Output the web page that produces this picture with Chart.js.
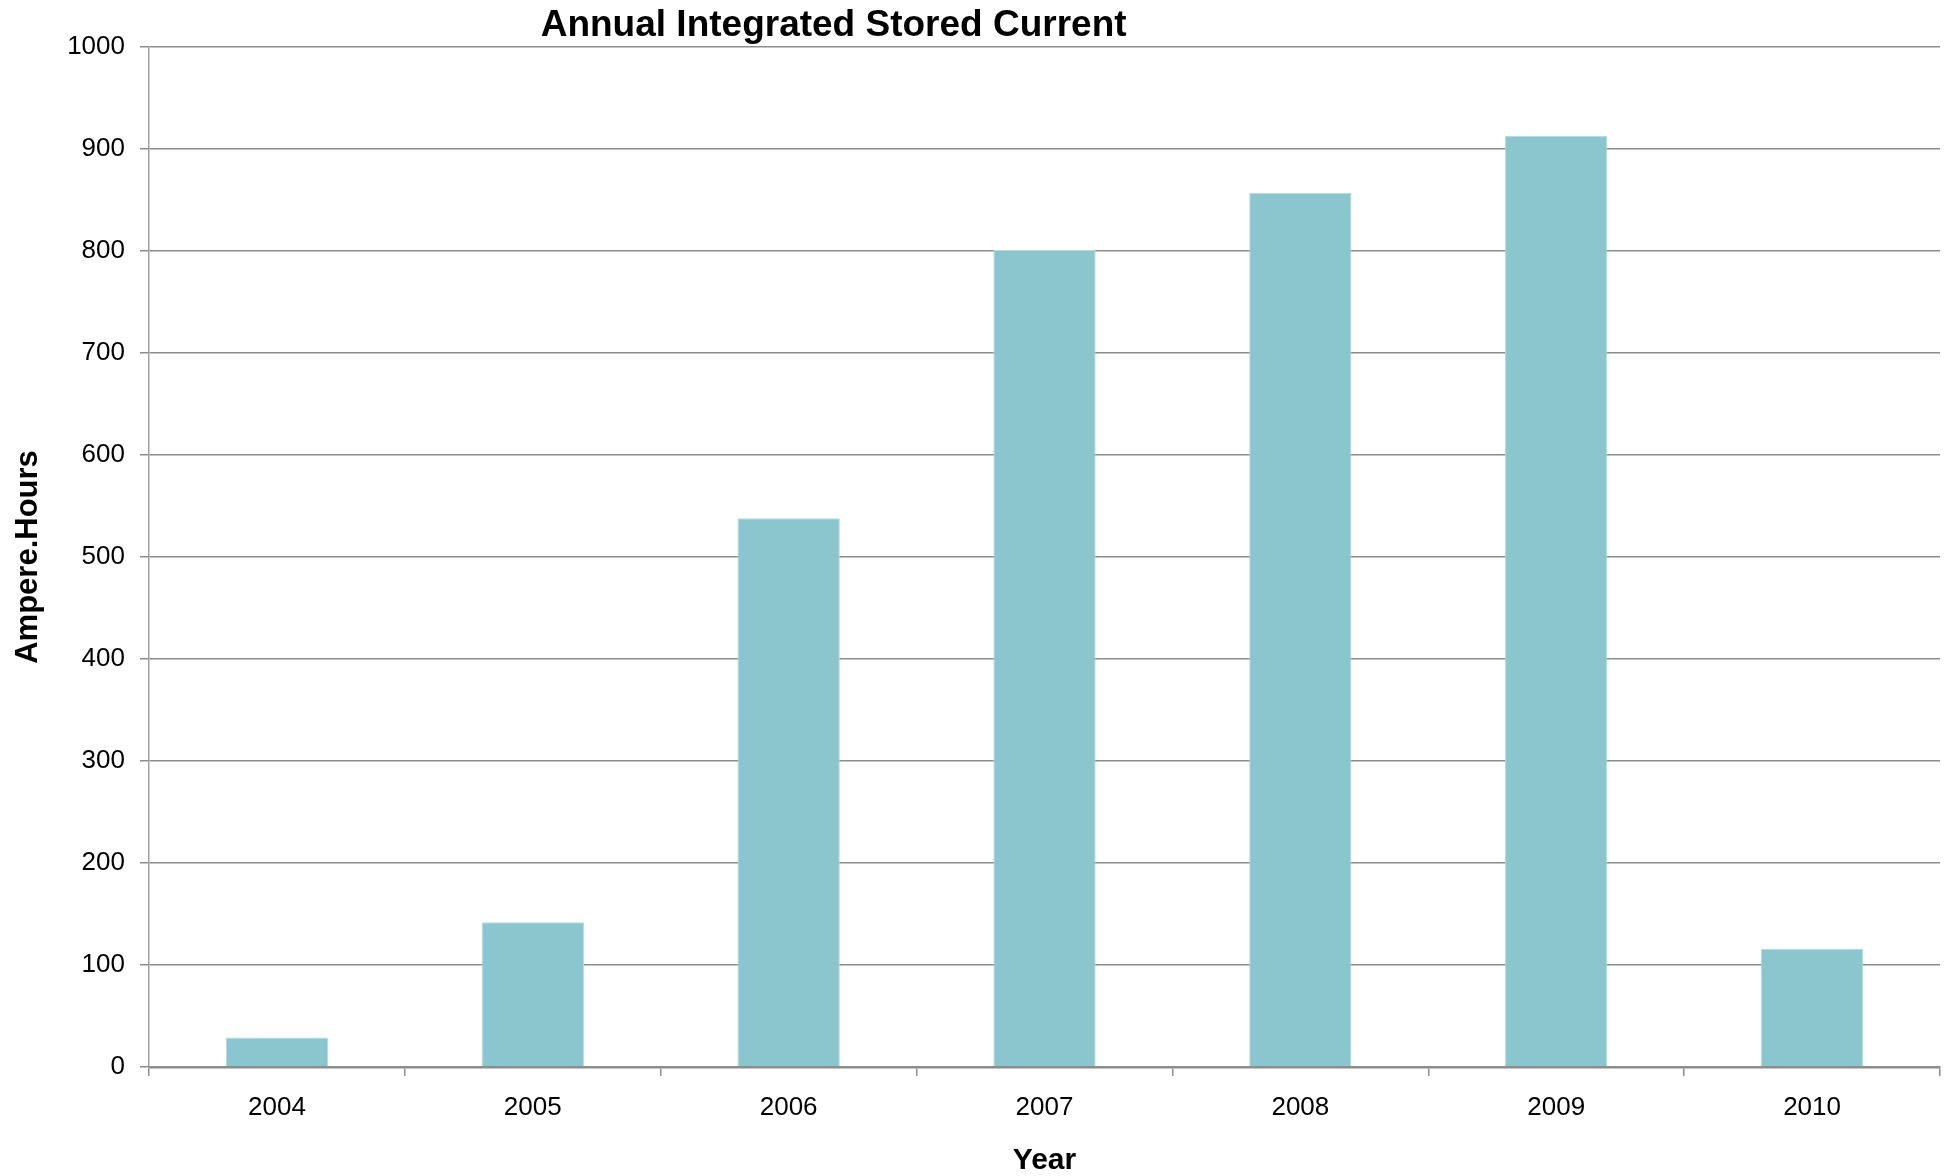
<!DOCTYPE html>
<html>
<head>
<meta charset="utf-8">
<script src="https://cdn.jsdelivr.net/npm/chart.js@4"></script>
<style>
  html, body { margin: 0; padding: 0; background: #fff; }
  #wrap { width: 1950px; height: 1176px; }
</style>
</head>
<body>
<div id="wrap"><canvas id="ar" width="1950" height="1176"></canvas></div>
<script>
// categories and values
const years = ['2004', '2005', '2006', '2007', '2008', '2009', '2010'];
const ampHours = [29, 142, 538, 801, 857, 913, 116];
const yTicks = [0, 100, 200, 300, 400, 500, 600, 700, 800, 900, 1000];

const chartTitle = 'Annual Integrated Stored Current';

// title sits left of centre, so draw it by hand
const titlePlugin = {
    id: 'offsetTitle',
    afterDraw(chart) {
        const c = chart.ctx;
        c.save();
        c.font = 'bold 37px "Liberation Sans", Arial, sans-serif';
        c.fillStyle = '#000';
        c.textAlign = 'center';
        c.textBaseline = 'middle';
        c.fillText(chartTitle, chart.width * 0.4275, 26);
        c.restore();
    }
};

Chart.defaults.font.family = '"Liberation Sans", Arial, sans-serif';
Chart.defaults.color = '#000';

const ctx = document.getElementById('ar').getContext('2d');
const myChart = new Chart(ctx, {
    type: 'bar',
    data: {
        labels: years,
        datasets: [{
            label: 'Ampere.Hours',
            data: ampHours,
            backgroundColor: '#8bc5cd',
            borderColor: '#b3dbe0',
            borderWidth: 1,
            categoryPercentage: 1.0,
            barPercentage: 0.4
        }]
    },
    options: {
        responsive: false,
        animation: false,
        layout: { padding: { top: 47, right: 10, left: 0, bottom: 0 } },
        plugins: {
            legend: { display: false },
            tooltip: { enabled: false }
        },
        scales: {
            x: {
                afterFit(scale) { scale.height = 109; },
                grid: {
                    offset: true,
                    drawOnChartArea: false,
                    drawTicks: true,
                    tickLength: 9,
                    color: '#8c8c8c',
                    lineWidth: 1.5
                },
                border: { color: '#8c8c8c', width: 2.5 },
                ticks: { font: { size: 26 }, padding: 16 },
                title: {
                    display: true,
                    text: 'Year',
                    font: { size: 30, weight: 'bold', lineHeight: 1 },
                    padding: { top: 0, bottom: 0 }
                }
            },
            y: {
                min: 0,
                max: 1000,
                afterFit(scale) { scale.width = 149; },
                afterBuildTicks(scale) { scale.ticks = yTicks.map(v => ({ value: v })); },
                grid: {
                    color: '#8c8c8c',
                    lineWidth: 1.5,
                    tickLength: 9
                },
                border: { color: '#a0a0a0', width: 1.5 },
                ticks: {
                    font: { size: 26 },
                    padding: 15,
                    callback: v => String(v)
                },
                title: {
                    display: true,
                    text: 'Ampere.Hours',
                    font: { size: 31, weight: 'bold' },
                    padding: { top: 10, bottom: 4 }
                }
            }
        }
    },
    plugins: [titlePlugin]
});

myChart.update();
</script>
</body>
</html>
